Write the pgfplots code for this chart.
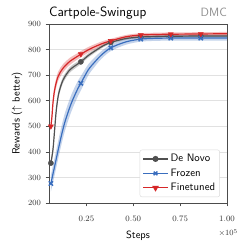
\documentclass[border=0pt]{standalone}
\usepackage{fontspec}
\usepackage{pgfplots}
\usepackage{pgfplotstable}
\pgfplotsset{compat=1.18}
\usepgfplotslibrary{fillbetween}
\definecolor{cred}{RGB}{214,39,40}
\definecolor{cblue}{RGB}{58,110,190}
\definecolor{cgray}{RGB}{80,80,80}
\definecolor{cgrid}{RGB}{225,225,225}

\pgfplotstableread{
x y e
6000 356 12
7100 408 14
8000 486 15
8900 564 15
10200 629 14
12500 681 12
16000 720 11
19600 740 10
22000 752 9
26000 777 8
30000 797 7
34000 815 6
38000 828 6
46000 843 5
54000 849 5
62000 851 5
70000 852 5
86000 853 5
100000 853 5
}\graytab

\pgfplotstableread{
x y e
6000 276 32
8000 343 34
10700 434 35
13300 512 35
16900 590 33
20500 649 30
22000 668 28
25900 720 22
29500 752 18
33000 779 15
38000 807 13
46000 830 11
54000 841 10
62000 844 10
70000 845 10
86000 845 10
100000 845 10
}\bluetab

\pgfplotstableread{
x y e
6000 500 14
6600 540 16
7100 590 18
8000 642 18
9800 694 18
12500 727 16
16000 753 14
20500 775 12
22000 782 12
26000 799 11
29400 811 10
34000 825 9
38000 834 8
46000 850 7
54000 857 7
62000 859 7
70000 860 7
86000 861 7
100000 862 7
}\redtab

\begin{document}
\begin{tikzpicture}
\begin{axis}[
  scale only axis,
  width=178pt, height=179pt,
  xmin=5000, xmax=100000,
  ymin=200, ymax=900,
  xtick={25000,50000,75000,100000},
  xticklabels={0.25,0.50,0.75,1.00},
  scaled x ticks=false,
  ytick={200,300,400,500,600,700,800,900},
  tick label style={font=\fontsize{8.3}{9}\selectfont, text=black!80},
  xticklabel style={yshift=-6pt},
  yticklabel style={xshift=-1pt},
  tick align=outside,
  tick pos=left,
  major tick length=3.5pt,
  every tick/.style={black!70, line width=0.6pt},
  axis line style={black!70, line width=0.6pt},
  ymajorgrids,
  grid style={cgrid, line width=0.6pt},
  xlabel={\sffamily Steps},
  ylabel={\sffamily Rewards ($\uparrow$ better)},
  label style={font=\fontsize{10.5}{12}\selectfont},
  xlabel style={yshift=-2pt},
  ylabel style={yshift=-1pt},
  clip=false,
  legend style={at={(0.96,0.033)}, anchor=south east, font=\sffamily\fontsize{10.8}{12}\selectfont, draw=black!15, rounded corners=2pt, inner sep=2.5pt, row sep=1.5pt},
  legend cell align=left,
  legend image code/.code={\draw[#1] (0pt,0pt) -- (25pt,0pt); \draw[#1, mark repeat=1] plot coordinates {(12.5pt,0pt)};},
]
% gray
\addplot[name path=gU, draw=none, smooth, forget plot] table[x=x, y expr=\thisrow{y}+\thisrow{e}]{\graytab};
\addplot[name path=gL, draw=none, smooth, forget plot] table[x=x, y expr=\thisrow{y}-\thisrow{e}]{\graytab};
\addplot[cgray, fill opacity=0.3, draw=none, forget plot] fill between[of=gU and gL];
% blue
\addplot[name path=bU, draw=none, smooth, forget plot] table[x=x, y expr=\thisrow{y}+\thisrow{e}]{\bluetab};
\addplot[name path=bL, draw=none, smooth, forget plot] table[x=x, y expr=\thisrow{y}-\thisrow{e}]{\bluetab};
\addplot[cblue, fill opacity=0.3, draw=none, forget plot] fill between[of=bU and bL];
% red
\addplot[name path=rU, draw=none, smooth, forget plot] table[x=x, y expr=\thisrow{y}+\thisrow{e}]{\redtab};
\addplot[name path=rL, draw=none, smooth, forget plot] table[x=x, y expr=\thisrow{y}-\thisrow{e}]{\redtab};
\addplot[cred, fill opacity=0.3, draw=none, forget plot] fill between[of=rU and rL];

\addplot[cgray, line width=1.2pt, smooth, no marks, forget plot] table[x=x, y=y]{\graytab};
\addplot[cgray, only marks, mark=*, mark size=2.6pt, forget plot] coordinates {(6000,356) (22000,752) (38000,828) (54000,849) (70000,852) (86000,853)};
\addplot[cblue, line width=1.2pt, smooth, no marks, forget plot] table[x=x, y=y]{\bluetab};
\addplot[cblue, only marks, mark=x, mark size=3pt, mark options={line width=1.5pt}, forget plot] coordinates {(6000,276) (22000,668) (38000,807) (54000,841) (70000,845) (86000,845)};
\addplot[cred, line width=1.2pt, smooth, no marks, forget plot] table[x=x, y=y]{\redtab};
\addplot[cred, only marks, mark=triangle*, mark size=3pt, mark options={rotate=180}, forget plot] coordinates {(6000,500) (22000,782) (38000,834) (54000,857) (70000,860) (86000,861)};

\addlegendimage{cgray, line width=1.2pt, mark=*, mark size=2.4pt}
\addlegendentry{De Novo}
\addlegendimage{cblue, line width=1.2pt, mark=x, mark size=2.6pt, mark options={line width=1.4pt}}
\addlegendentry{Frozen}
\addlegendimage{cred, line width=1.2pt, mark=triangle*, mark size=2.6pt, mark options={rotate=180}}
\addlegendentry{Finetuned}

\node[anchor=base west, font=\sffamily\fontsize{13.5}{15}\selectfont, inner sep=0pt, yshift=7pt] at (rel axis cs:0,1) {Cartpole-Swingup};
\node[anchor=base east, font=\sffamily\fontsize{12}{14}\selectfont, text=black!45, inner sep=0pt, yshift=7pt] at (rel axis cs:1,1) {DMC};
\node[anchor=north east, font=\fontsize{8.3}{9}\selectfont, text=black!80, inner sep=0pt, yshift=-26pt, xshift=11pt] at (rel axis cs:1,0) {$\times 10^{5}$};
\end{axis}
\path ([xshift=-49pt,yshift=-41pt]current axis.south west) rectangle ([xshift=16pt,yshift=24pt]current axis.north east);
\end{tikzpicture}
\end{document}
